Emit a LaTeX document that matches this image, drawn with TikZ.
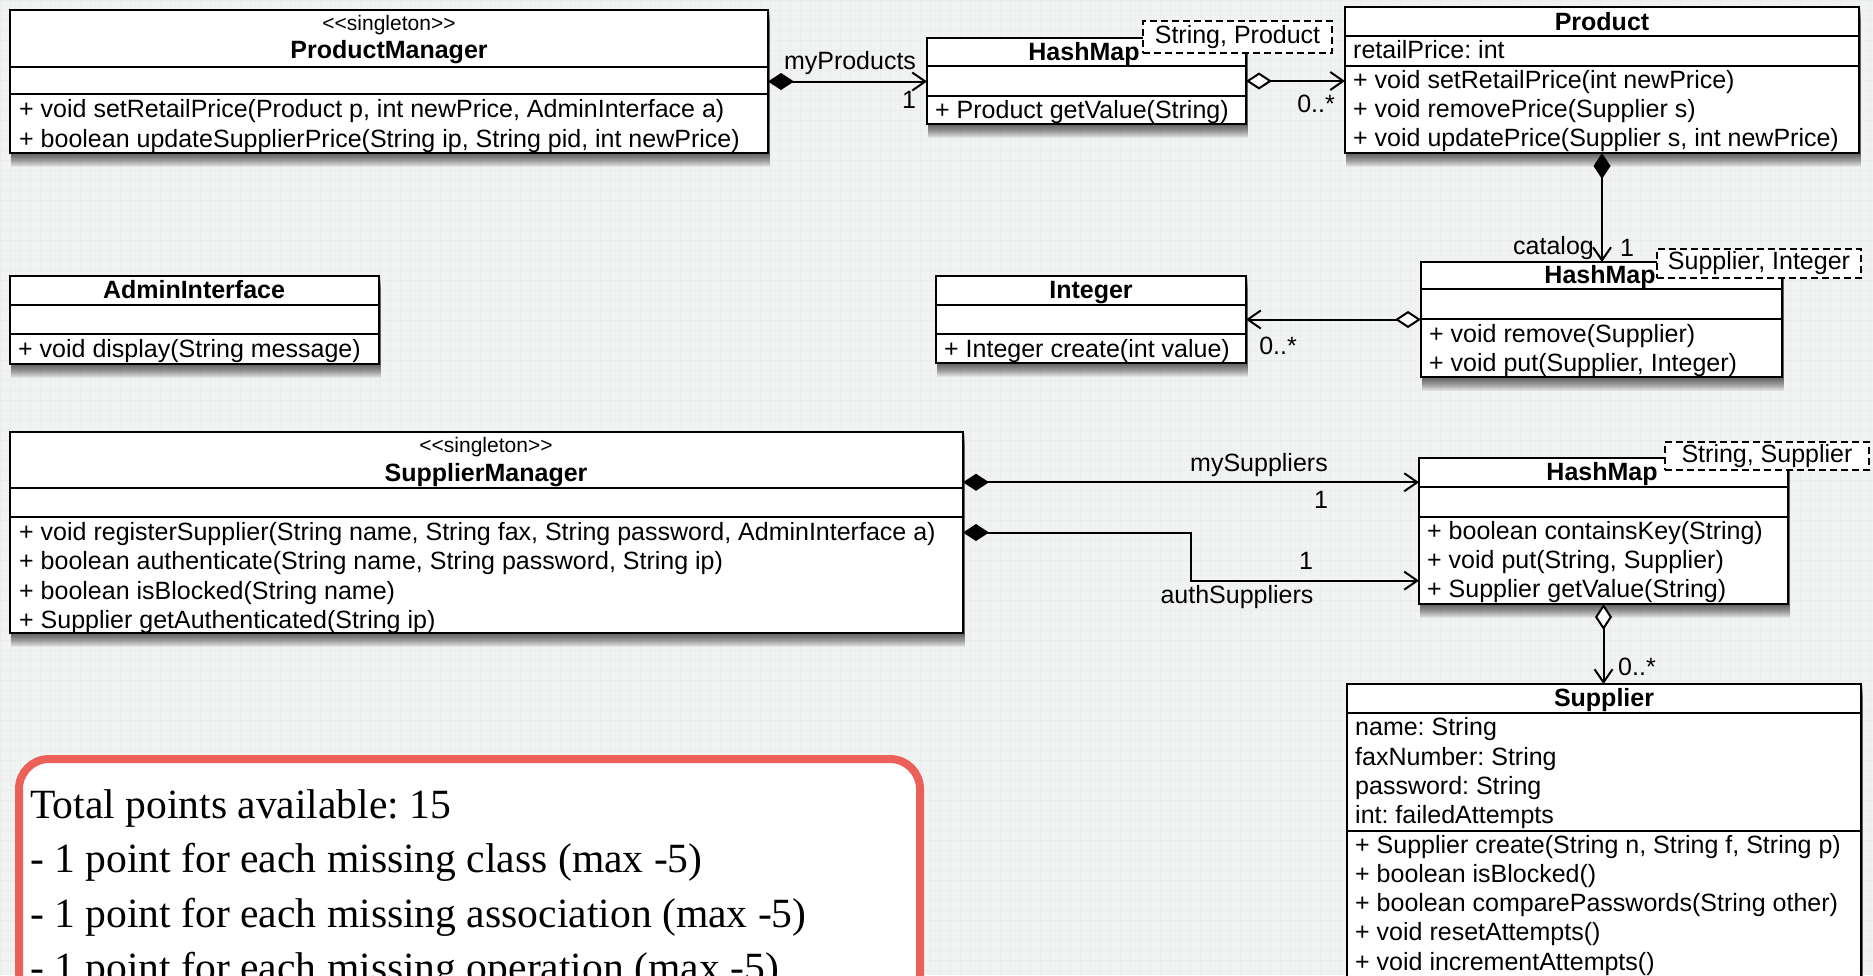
\documentclass[tikz,border=0pt]{standalone}
\usepackage{fontspec}
\setmainfont{Liberation Serif}
\newfontfamily\umlf{Liberation Sans}
\usetikzlibrary{arrows.meta,calc,backgrounds}
\definecolor{bgc}{RGB}{241,242,242}
\definecolor{gridc}{RGB}{235,236,236}
\definecolor{redc}{RGB}{236,96,90}
\frenchspacing
\tikzset{
  cls/.style={draw=black, fill=white, line width=2pt, inner sep=0pt, outer sep=0pt, anchor=north west},
  tmpl/.style={draw=black, dash pattern=on 7pt off 4pt, fill=white, line width=2pt, inner sep=0pt, outer sep=0pt, anchor=north west, font=\umlf\fontsize{25}{30}\selectfont},
  nm/.style={font=\umlf\bfseries\fontsize{25}{30}\selectfont, inner sep=0pt, anchor=base},
  st/.style={font=\umlf\fontsize{21}{25}\selectfont, inner sep=0pt, anchor=base},
  mb/.style={font=\umlf\fontsize{25}{30}\selectfont, inner sep=0pt, anchor=base west},
  lbl/.style={font=\umlf\fontsize{25}{30}\selectfont, inner sep=0pt},
  div/.style={line width=2pt},
  comp/.style={line width=2pt, {Diamond[length=26pt,width=17pt]}-{Straight Barb[length=13pt,width=18pt]}},
  aggr/.style={line width=2pt, {Diamond[length=26pt,width=17pt,fill=white]}-{Straight Barb[length=13pt,width=18pt]}},
  scoretext/.style={font=\fontsize{41.6}{52}\selectfont, inner sep=0pt, anchor=base west},
}
\begin{document}
\begin{tikzpicture}[x=1pt,y=-1pt]
\useasboundingbox (0,0) rectangle (1873,975);
\clip (0,0) rectangle (1873,975);

% ---------- ProductManager
\node[cls, minimum width=758pt, minimum height=143pt] (pm) at (10,10) {};
\node[st] (pmst) at (389,30) {<\kern0pt<singleton>\kern0pt>};
\node[nm] (pmnm) at (389,58) {ProductManager};
\draw[div] (10,67) -- (768,67);
\draw[div] (10,94) -- (768,94);
\node[mb] (pmo1) at (19,117) {+ void setRetailPrice(Product p, int newPrice, AdminInterface a)};
\node[mb] (pmo2) at (19,147) {+ boolean updateSupplierPrice(String ip, String pid, int newPrice)};

% ---------- HashMap<String, Product>
\node[cls, minimum width=319pt, minimum height=86pt] (hm1) at (927,38) {};
\node[nm] (hm1nm) at (1084,60) {HashMap};
\draw[div] (927,66) -- (1246,66);
\draw[div] (927,96) -- (1246,96);
\node[mb] (hm1o1) at (935,118) {+ Product getValue(String)};

% ---------- Product
\node[cls, minimum width=514pt, minimum height=146pt] (prod) at (1345,7) {};
\node[nm] (prodnm) at (1602,30) {Product};
\draw[div] (1345,36) -- (1859,36);
\node[mb] (proda1) at (1353,58) {retailPrice: int};
\draw[div] (1345,66) -- (1859,66);
\node[mb] (prodo1) at (1353,88) {+ void setRetailPrice(int newPrice)};
\node[mb] (prodo2) at (1353,117) {+ void removePrice(Supplier s)};
\node[mb] (prodo3) at (1353,146) {+ void updatePrice(Supplier s, int newPrice)};

% ---------- HashMap<Supplier, Integer>
\node[cls, minimum width=361pt, minimum height=115pt] (hm2) at (1421,262) {};
\node[nm] (hm2nm) at (1600,283) {HashMap};
\draw[div] (1421,289) -- (1782,289);
\draw[div] (1421,319) -- (1782,319);
\node[mb] (hm2o1) at (1429,342) {+ void remove(Supplier)};
\node[mb] (hm2o2) at (1429,371) {+ void put(Supplier, Integer)};

% ---------- Integer
\node[cls, minimum width=310pt, minimum height=87pt] (int) at (936,276) {};
\node[nm] (intnm) at (1091,298) {Integer};
\draw[div] (936,305) -- (1246,305);
\draw[div] (936,334) -- (1246,334);
\node[mb] (into1) at (944,357) {+ Integer create(int value)};

% ---------- AdminInterface
\node[cls, minimum width=369pt, minimum height=88pt] (ai) at (10,276) {};
\node[nm] (ainm) at (194,298) {AdminInterface};
\draw[div] (10,305) -- (379,305);
\draw[div] (10,334) -- (379,334);
\node[mb] (aio1) at (18,357) {+ void display(String message)};

% ---------- SupplierManager
\node[cls, minimum width=953pt, minimum height=201pt] (sm) at (10,432) {};
\node[st] (smst) at (486,452) {<\kern0pt<singleton>\kern0pt>};
\node[nm] (smnm) at (486,481) {SupplierManager};
\draw[div] (10,488) -- (963,488);
\draw[div] (10,517) -- (963,517);
\node[mb] (smo1) at (19,540) {+ void registerSupplier(String name, String fax, String password, AdminInterface a)};
\node[mb] (smo2) at (19,569) {+ boolean authenticate(String name, String password, String ip)};
\node[mb] (smo3) at (19,599) {+ boolean isBlocked(String name)};
\node[mb] (smo4) at (19,628) {+ Supplier getAuthenticated(String ip)};

% ---------- HashMap<String, Supplier>
\node[cls, minimum width=369pt, minimum height=146pt] (hm3) at (1419,458) {};
\node[nm] (hm3nm) at (1602,480) {HashMap};
\draw[div] (1419,487) -- (1788,487);
\draw[div] (1419,517) -- (1788,517);
\node[mb] (hm3o1) at (1427,539) {+ boolean containsKey(String)};
\node[mb] (hm3o2) at (1427,568) {+ void put(String, Supplier)};
\node[mb] (hm3o3) at (1427,597) {+ Supplier getValue(String)};

% ---------- Supplier
\node[cls, minimum width=514pt, minimum height=320pt] (sup) at (1347,684) {};
\node[nm] (supnm) at (1604,706) {Supplier};
\draw[div] (1347,713) -- (1861,713);
\node[mb] (supa1) at (1355,735) {name: String};
\node[mb] (supa2) at (1355,765) {faxNumber: String};
\node[mb] (supa3) at (1355,794) {password: String};
\node[mb] (supa4) at (1355,823) {int: failedAttempts};
\draw[div] (1347,831) -- (1861,831);
\node[mb] (supo1) at (1355,853) {+ Supplier create(String n, String f, String p)};
\node[mb] (supo2) at (1355,882) {+ boolean isBlocked()};
\node[mb] (supo3) at (1355,911) {+ boolean comparePasswords(String other)};
\node[mb] (supo4) at (1355,940) {+ void resetAttempts()};
\node[mb] (supo5) at (1355,970) {+ void incrementAttempts()};

% ---------- template parameter boxes
\node[tmpl, minimum width=189pt, minimum height=32pt] (t1) at (1143,21) {String, Product};
\node[tmpl, minimum width=204pt, minimum height=29pt] (t2) at (1657,249) {Supplier, Integer};
\node[tmpl, minimum width=204pt, minimum height=28pt] (t3) at (1665,442) {String, Supplier};

% ---------- connectors
\draw[comp] (pm.east) -- (pm.east -| hm1.west);
\draw[aggr] (hm1.east) -- (hm1.east -| prod.west);
\draw[comp] (prod.south) -- (prod.south |- hm2.north);
\draw[aggr] (hm2.west) -- (hm2.west -| int.east);
\coordinate (smA) at ($(sm.north east)!0.25!(sm.south east)$);
\draw[comp] (smA) -- (smA -| hm3.west);
\coordinate (bend) at ($(sm.east)!0.5!(hm3.west)$);
\coordinate (hmA) at ($(hm3.north west)!0.84!(hm3.south west)$);
\draw[comp] (sm.east) -- (sm.east -| bend) -- (bend |- hmA) -- (hmA);
\draw[aggr] (hm3.south) -- (hm3.south |- sup.north);

% ---------- connector labels
\node[lbl] (lmyp) at (850,63) {myProducts};
\node[lbl] (lmyp1) at (909,100) {1};
\node[lbl] (lprodm) at (1316,104) {0..*};
\node[lbl, anchor=east] (lcat) at (1594,248) {catalog};
\node[lbl] (lcat1) at (1627,248) {1};
\node[lbl] (lintm) at (1278,346) {0..*};
\node[lbl] (lmys) at (1259,465) {mySuppliers};
\node[lbl] (lmys1) at (1321,500) {1};
\node[lbl] (lauth1) at (1306,561) {1};
\node[lbl] (lauth) at (1237,597) {authSuppliers};
\node[lbl, anchor=west] (lsupm) at (1618,667) {0..*};

% ---------- score box
\node[draw=redc, line width=8pt, rounded corners=30pt, fill=white, anchor=north west,
      minimum width=901pt, minimum height=300pt, inner sep=0pt] (score) at (15,755) {};
\node[scoretext] (sc1) at (30,818) {Total points available: 15};
\node[scoretext] (sc2) at (30,872) {- 1 point for each missing class (max -5)};
\node[scoretext] (sc3) at (30,927) {- 1 point for each missing association (max -5)};
\node[scoretext] (sc4) at (30,981) {- 1 point for each missing operation (max -5)};

% ---------- background and shadows
\begin{scope}[on background layer]
  \fill[bgc] (0,0) rectangle (1873,975);
  \draw[gridc, line width=0.7pt] (0,0) grid[xstep=10pt,ystep=10pt] (1873,975);
  \foreach \n in {pm,hm1,prod,hm2,int,ai,sm,hm3,sup} {
    \foreach \k in {1,...,14} {
      \fill[black, opacity=0.06] ([xshift=1pt, yshift={-\k*1pt}]\n.north west) rectangle ([xshift=2pt, yshift={-\k*1pt}]\n.south east);
    }
  }
\end{scope}
\end{tikzpicture}
\end{document}
